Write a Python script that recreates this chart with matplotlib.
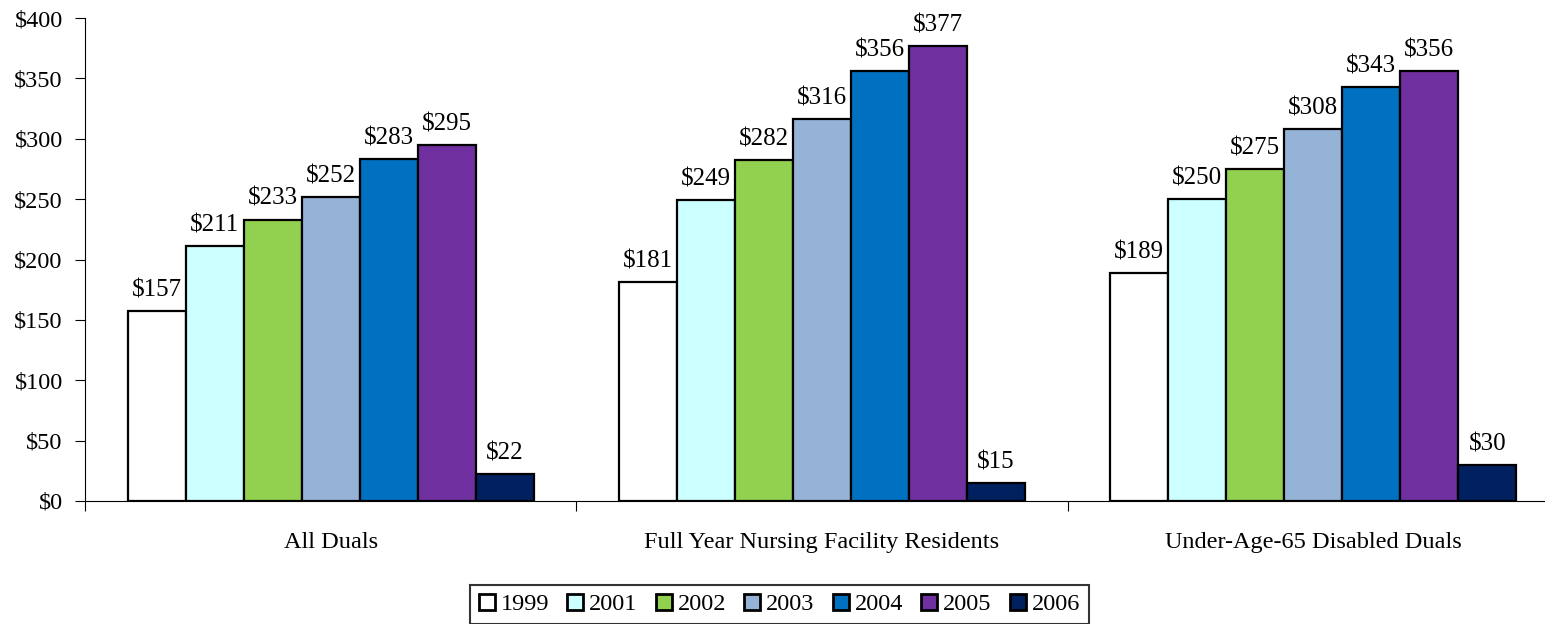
import matplotlib.pyplot as plt
import numpy as np

plt.rcParams['font.family'] = ['Liberation Serif', 'DejaVu Serif']

groups = ["All Duals", "Full Year Nursing Facility Residents", "Under-Age-65 Disabled Duals"]
years = ["1999", "2001", "2002", "2003", "2004", "2005", "2006"]
values = {
    "1999": [157, 181, 189],
    "2001": [211, 249, 250],
    "2002": [233, 282, 275],
    "2003": [252, 316, 308],
    "2004": [283, 356, 343],
    "2005": [295, 377, 356],
    "2006": [22, 15, 30],
}
colors = ["#FFFFFF", "#CCFFFF", "#92D050", "#95B3D7", "#0070C0", "#7030A0", "#002060"]

fig = plt.figure(figsize=(15.45, 6.24), dpi=100)
ax = fig.add_axes([85 / 1545, 1 - 501 / 624, 1 - 85 / 1545, (501 - 18) / 624])

gw = 491.3
bw = 58 / gw
x = np.arange(len(groups))
start = (1 - bw * len(years)) / 2

for i, yr in enumerate(years):
    pos = x + start + bw * (i + 0.5)
    bars = ax.bar(pos, values[yr], width=bw, color=colors[i], edgecolor="black",
                  linewidth=1.6, label=yr, zorder=3)
    for b, v in zip(bars, values[yr]):
        ax.text(b.get_x() + b.get_width() / 2, v + 8, "$%d" % v,
                ha="center", va="bottom", fontsize=18)

ax.set_xlim(0, (1545 - 85) / gw)
ax.set_ylim(0, 400)
ax.set_yticks(range(0, 401, 50))
ax.set_yticklabels(["$%d" % v for v in range(0, 401, 50)], fontsize=17.5)
ax.set_xticks([0, 1, 2])
ax.set_xticklabels([])
ax.set_xticks(x + 0.5, minor=True)
ax.set_xticklabels(groups, minor=True, fontsize=17.5)
ax.tick_params(axis="x", which="minor", length=0, pad=22)
ax.tick_params(axis="x", which="major", length=7, direction="out")
ax.tick_params(axis="y", length=7, direction="out", pad=9)
for s in ["top", "right"]:
    ax.spines[s].set_visible(False)
ax.spines["left"].set_bounds(0, 400)

leg = fig.legend(*ax.get_legend_handles_labels(), loc="upper center",
                 bbox_to_anchor=(779.5 / 1545, 1 - 585 / 624), ncol=7, fontsize=17.5,
                 frameon=True, fancybox=False, edgecolor="black", handlelength=0.65,
                 handleheight=0.65, handletextpad=0.25, columnspacing=0.75,
                 borderpad=0.35, borderaxespad=0)
leg.get_frame().set_linewidth(1.5)
for h in leg.legend_handles:
    h.set_linewidth(2)

fig.savefig("out.png", dpi=100)
